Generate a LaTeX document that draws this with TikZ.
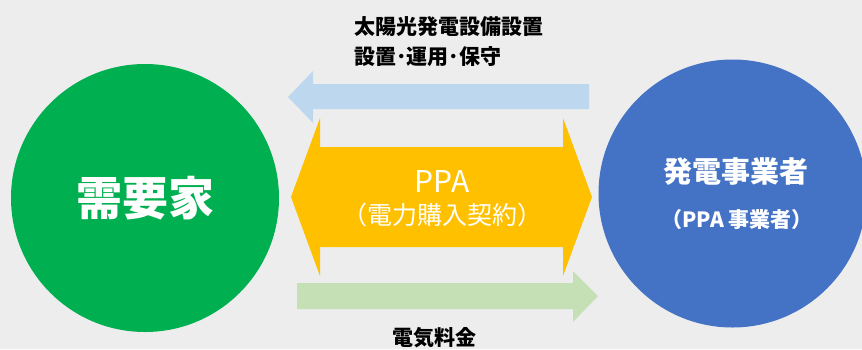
\documentclass[tikz,border=0pt]{standalone}
\usepackage{fontspec}
\setmainfont{Noto Sans CJK JP}
\definecolor{bg}{RGB}{237,237,237}
\definecolor{cgreen}{RGB}{0,176,80}
\definecolor{cblue}{RGB}{68,114,196}
\definecolor{corange}{RGB}{255,192,0}
\definecolor{clblue}{RGB}{189,215,238}
\definecolor{clgreen}{RGB}{197,224,180}
\tikzset{
  party/.style={circle, inner sep=0pt, minimum size=268pt, text=white, align=center},
  wtext/.style={text=white, inner sep=0pt, align=center},
  btext/.style={text=black, inner sep=0pt, font=\bfseries\fontsize{21}{30}\selectfont}
}
\begin{document}
\begin{tikzpicture}[x=1pt,y=-1pt]
\useasboundingbox (0,0) rectangle (862,349);
\clip (0,0) rectangle (862,349);
\fill[bg] (0,0) rectangle (862,349);
% circles
\node[party, fill=cgreen] (demand) at (145,198) {};
\node[party, fill=cblue] (gen) at (732.5,193.5) {};
\node[wtext, font=\bfseries\fontsize{46}{50}\selectfont] (demandlbl) at (145,198) {需要家};
\node[wtext, font=\bfseries\fontsize{29}{32}\selectfont] (genlbl) at (736,172) {発電事業者};
\node[wtext, font=\bfseries\fontsize{21}{24}\selectfont] (genlbl2) at (737,220) {（PPA 事業者）};
% top arrow (light blue, pointing left)
\fill[clblue] (589,84) -- (313,84) -- (313,71) -- (288,97) -- (313,123) -- (313,109) -- (589,109) -- cycle;
% bottom arrow (light green, pointing right)
\fill[clgreen] (297,283) -- (573,283) -- (573,271) -- (598,296) -- (573,322) -- (573,309) -- (297,309) -- cycle;
% double arrow (orange)
\fill[corange] (291,197) -- (320,118) -- (320,147) -- (563,147) -- (563,118) -- (592,197) -- (563,276) -- (563,247) -- (320,247) -- (320,276) -- cycle;
\node[wtext, font=\fontsize{30}{32}\selectfont] (ppa) at (442,181) {PPA};
\node[wtext, font=\fontsize{25}{28}\selectfont] (ppa2) at (442,215) {（電力購入契約）};
% labels
\node[btext, anchor=west] (toplbl1) at (354,27) {太陽光発電設備設置};
\node[btext, anchor=west] (toplbl2) at (354,57) {設置･運用･保守};
\node[btext] (botlbl) at (434,338) {電気料金};
\end{tikzpicture}
\end{document}
